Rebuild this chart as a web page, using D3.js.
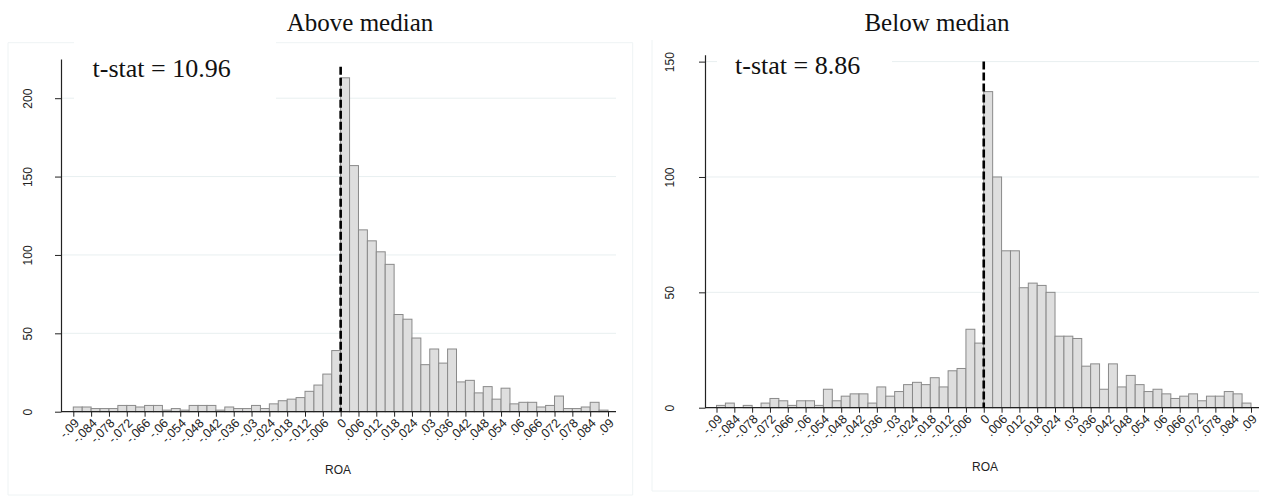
<!DOCTYPE html>
<html><head><meta charset="utf-8">
<script src="https://cdn.jsdelivr.net/npm/d3@7"></script>
<style>body{margin:0;background:#fff}svg{display:block}</style>
</head><body>
<svg id="c" width="1273" height="496"></svg>
<script>
// ---------- DATA ----------
const panelTitles = ["Above median", "Below median"];
const tStats = ["t-stat = 10.96", "t-stat = 8.86"];
const xTitle = "ROA";
// bins of width .003 from -.09 to .09 (left edges)
const binLefts = d3.range(60).map(i => +(-0.09 + i * 0.003).toFixed(3));
const binWidth = 0.003;
const aboveCounts = [3,3,2,2,2,4,4,3,4,4,1,2,1,4,4,4,1,3,2,2,4,2,5,7,8,9,13,17,24,39,
  213,157,116,109,102,94,62,59,47,30,40,31,40,19,20,12,16,8,15,5,6,6,3,4,10,2,2,3,6,1];
const belowCounts = [1,2,0,1,0,2,4,3,1,3,3,1,8,3,5,6,6,2,9,5,7,10,11,10,13,9,16,17,34,28,
  137,100,68,68,52,54,53,50,31,31,30,18,19,8,19,9,14,10,7,8,6,4,5,6,3,5,5,7,6,2];
const xTickValues = [-0.09,-0.084,-0.078,-0.072,-0.066,-0.06,-0.054,-0.048,-0.042,-0.036,-0.03,-0.024,-0.018,-0.012,-0.006,0,
  0.006,0.012,0.018,0.024,0.03,0.036,0.042,0.048,0.054,0.06,0.066,0.072,0.078,0.084,0.09];
const xTickLabels = ["-.09","-.084","-.078","-.072","-.066","-.06","-.054","-.048","-.042","-.036","-.03","-.024","-.018","-.012","-.006","0",
  ".006",".012",".018",".024",".03",".036",".042",".048",".054",".06",".066",".072",".078",".084",".09"];
const aboveYTicks = [0,50,100,150,200];
const belowYTicks = [0,50,100,150];
const aboveYMax = 225, belowYMax = 153;
const aboveDashTop = 220, belowDashTop = 150;

// ---------- LAYOUT ----------
const layouts = [
  {axisX:61, x0:73.3, x1:608, gridRight:616, base:411.7, top:59, titleX:360, tX:92.5, tY:77.3,
   box:[74,40,202,62], roaX:338, roaY:474, yLabelOff:33.5,
   frame:{l:8,t:42.7,r:632.7,b:495}},
  {axisX:705, x0:716.5, x1:1251, gridRight:1259, base:407.7, top:54.7, titleX:937, tX:735, tY:74,
   box:[717,40,175,60], roaX:985, roaY:471, yLabelOff:35,
   frame:{l:652,t:null,r:null,b:491}}
];

const svg = d3.select("#c");
const series = [
  {counts: aboveCounts, yTicks: aboveYTicks, yMax: aboveYMax, dashTop: aboveDashTop},
  {counts: belowCounts, yTicks: belowYTicks, yMax: belowYMax, dashTop: belowDashTop}
];
const frameCol = "#eef3f4", gridCol = "#e8eff0";

series.forEach((s, p) => {
  const L = layouts[p];
  const g = svg.append("g");
  const x = d3.scaleLinear().domain([-0.09, 0.09]).range([L.x0, L.x1]);
  const y = d3.scaleLinear().domain([0, s.yMax]).range([L.base, L.top]);

  // faint frame
  const f = L.frame;
  if (f.t !== null) g.append("line").attr("x1", f.l).attr("x2", f.r).attr("y1", f.t).attr("y2", f.t).attr("stroke", frameCol);
  g.append("line").attr("x1", f.l).attr("x2", f.l).attr("y1", f.t === null ? 40 : f.t).attr("y2", f.b).attr("stroke", frameCol);
  if (f.r !== null) g.append("line").attr("x1", f.r).attr("x2", f.r).attr("y1", f.t).attr("y2", f.b).attr("stroke", frameCol);
  g.append("line").attr("x1", f.l).attr("x2", f.r === null ? L.gridRight : f.r).attr("y1", f.b).attr("y2", f.b).attr("stroke", frameCol);

  // gridlines
  g.selectAll(".grid").data(s.yTicks.filter(v => v > 0)).join("line")
    .attr("x1", L.axisX).attr("x2", L.gridRight)
    .attr("y1", d => y(d)).attr("y2", d => y(d))
    .attr("stroke", gridCol).attr("stroke-width", 1);

  // white box behind t-stat
  g.append("rect").attr("x", L.box[0]).attr("y", L.box[1]).attr("width", L.box[2]).attr("height", L.box[3]).attr("fill", "#fff");

  // bars
  g.selectAll(".bar").data(s.counts.map((c, i) => ({x: binLefts[i], c}))).join("rect")
    .attr("x", d => x(d.x)).attr("width", d => x(d.x + binWidth) - x(d.x))
    .attr("y", d => y(d.c)).attr("height", d => L.base - y(d.c))
    .attr("fill", "#dedede").attr("stroke", "#8a8a8a").attr("stroke-width", 1)
    .style("display", d => d.c > 0 ? null : "none");

  // y axis
  const ya = g.append("g").attr("transform", `translate(${L.axisX},0)`)
    .call(d3.axisLeft(y).tickValues(s.yTicks).tickSize(6).tickSizeOuter(0).tickFormat(d3.format("d")));
  ya.select(".domain").attr("stroke", "#222").attr("stroke-width", 1.2);
  ya.selectAll(".tick line").attr("stroke", "#222");
  ya.selectAll(".tick text").attr("x", 0).attr("dy", null).attr("y", -L.yLabelOff)
    .attr("transform", "rotate(-90)").attr("text-anchor", "middle").attr("dominant-baseline", "central")
    .attr("font-family", "Liberation Sans, Arial, sans-serif").attr("font-size", 12).attr("fill", "#222");

  // x axis
  const xa = g.append("g").attr("transform", `translate(0,${L.base})`)
    .call(d3.axisBottom(x).tickValues(xTickValues).tickSize(5).tickSizeOuter(0)
      .tickFormat((d, i) => xTickLabels[i]));
  xa.select(".domain").remove();
  xa.selectAll(".tick line").attr("stroke", "#222");
  xa.selectAll(".tick text").attr("x", 0).attr("y", 0).attr("dy", "0.35em")
    .attr("transform", "translate(3,9) rotate(-45)").attr("text-anchor", "end")
    .attr("font-family", "Liberation Sans, Arial, sans-serif").attr("font-size", 12.5).attr("fill", "#222");
  g.append("line").attr("x1", L.axisX).attr("x2", L.gridRight).attr("y1", L.base).attr("y2", L.base)
    .attr("stroke", "#222").attr("stroke-width", 1.2);

  // dashed zero line
  g.append("line").attr("x1", x(0)).attr("x2", x(0)).attr("y1", y(s.dashTop)).attr("y2", L.base)
    .attr("stroke", "#000").attr("stroke-width", 2.6).attr("stroke-dasharray", "8,3");

  // texts
  g.append("text").attr("x", L.titleX).attr("y", 31).attr("text-anchor", "middle")
    .attr("font-family", "Liberation Serif, Times New Roman, serif").attr("font-size", 25).attr("fill", "#111")
    .text(panelTitles[p]);
  g.append("text").attr("x", L.tX).attr("y", L.tY)
    .attr("font-family", "Liberation Serif, Times New Roman, serif").attr("font-size", 26).attr("fill", "#111")
    .text(tStats[p]);
  g.append("text").attr("x", L.roaX).attr("y", L.roaY).attr("text-anchor", "middle")
    .attr("font-family", "Liberation Sans, Arial, sans-serif").attr("font-size", 12).attr("fill", "#222")
    .text(xTitle);
});
</script>
</body></html>
